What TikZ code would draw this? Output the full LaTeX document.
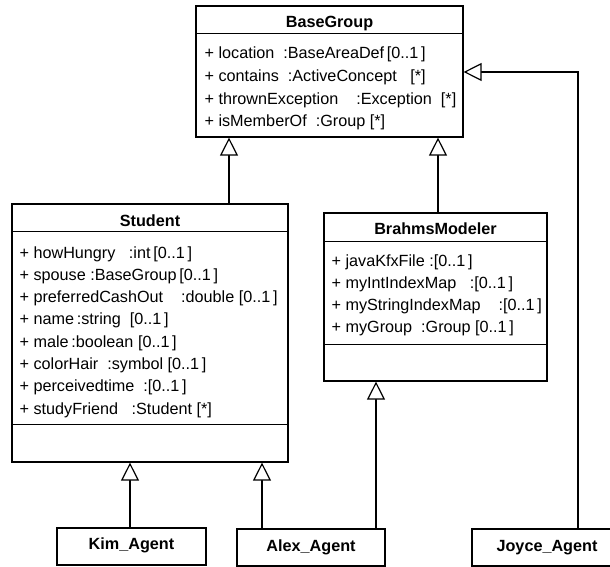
\documentclass[tikz,border=0pt]{standalone}
\usepackage{fontspec}
\setmainfont{Liberation Sans}
\usetikzlibrary{arrows.meta,positioning,calc}

\begin{document}
\begin{tikzpicture}[
    x=1pt, y=-1pt,
    line width=1.2pt,
    classbox/.style={draw, rectangle, inner sep=0pt},
    title/.style={anchor=base, inner sep=0pt, font=\fontsize{16.2}{18}\selectfont\bfseries},
    attr/.style={anchor=base west, inner sep=0pt, font=\fontsize{16.2}{18}\selectfont},
    inherit/.style={draw, -{Triangle[open, width=18pt, length=18pt, fill=white]}}
]
\useasboundingbox (0,0) rectangle (610,567);
\clip (0,0) rectangle (610,567);

% classes
\node[classbox, minimum width=267pt, minimum height=131pt] (base) at (329.5,71.5) {};
\node[classbox, minimum width=276pt, minimum height=258pt] (student) at (150,333) {};
\node[classbox, minimum width=223pt, minimum height=168pt] (modeler) at (435.5,297) {};

% compartments
\draw ([yshift=-28pt]base.north west) -- ([yshift=-28pt]base.north east);
\draw ([yshift=-28pt]student.north west) -- ([yshift=-28pt]student.north east);
\draw ([yshift=38pt]student.south west) -- ([yshift=38pt]student.south east);
\draw ([yshift=-29pt]modeler.north west) -- ([yshift=-29pt]modeler.north east);
\draw ([yshift=37pt]modeler.south west) -- ([yshift=37pt]modeler.south east);

% names
\node[title] (base-name) at (329.5,28) {BaseGroup};
\node[title] (student-name) at (150,226) {Student};
\node[title] (modeler-name) at (435.5,234) {BrahmsModeler};

% attributes
\foreach \txt [count=\i] in {
    {+ location\ \ :BaseAreaDef\,[0..1\,]},
    {+ contains\ \ :ActiveConcept\ \ \ [*]},
    {+ thrownException\ \ \ \ :Exception\ \ [*]},
    {+ isMemberOf\ \ :Group [*]}}
    \node[attr] (base-\i) at (204, 59+22.6*\i-22.6) {\txt};

\foreach \txt [count=\i] in {
    {+ howHungry\ \ \ :int\,[0..1\,]},
    {+ spouse\ :BaseGroup\,[0..1\,]},
    {+ preferredCashOut\ \ \ \ :double\ [0..1\,]},
    {+ name\,:string\ \ [0..1\,]},
    {+ male\,:boolean\ [0..1\,]},
    {+ colorHair\ \ :symbol\ [0..1\,]},
    {+ perceivedtime\ \ :[0..1\,]},
    {+ studyFriend\ \ \ :Student [*]}}
    \node[attr] (student-\i) at (19, 258+22.3*\i-22.3) {\txt};

\foreach \txt [count=\i] in {
    {+ javaKfxFile\ :[0..1\,]},
    {+ myIntIndexMap\ \ \ :[0..1\,]},
    {+ myStringIndexMap\ \ \ \ :[0..1\,]},
    {+ myGroup\ \ :Group [0..1\,]}}
    \node[attr] (modeler-\i) at (331, 266+22.3*\i-22.3) {\txt};

% agents
\node[classbox, minimum width=149pt, minimum height=37pt] (kim) at (131.5,546.5) {};
\node[classbox, minimum width=148pt, minimum height=37pt] (alex) at (311,547.5) {};
\node[classbox, minimum width=150pt, minimum height=37pt] (joyce) at (547,547.5) {};
\node[title] (kim-name) at (131.5,549) {Kim\_Agent};
\node[title] (alex-name) at (311,551) {Alex\_Agent};
\node[title] (joyce-name) at (547,551) {Joyce\_Agent};

% generalisations
\coordinate (g1) at (229,0);
\coordinate (g2) at (438,0);
\coordinate (g3) at (130,0);
\coordinate (g4) at (262,0);
\coordinate (g5) at (376,0);
\coordinate (g6) at (578,0);
\draw[inherit] (student.north -| g1) -- (base.south -| g1);
\draw[inherit] (modeler.north -| g2) -- (base.south -| g2);
\draw[inherit] (kim.north -| g3) -- (student.south -| g3);
\draw[inherit] (alex.north -| g4) -- (student.south -| g4);
\draw[inherit] (alex.north -| g5) -- (modeler.south -| g5);
\draw[inherit] (joyce.north -| g6) |- ([yshift=-0.5pt]base.east);

\end{tikzpicture}
\end{document}
